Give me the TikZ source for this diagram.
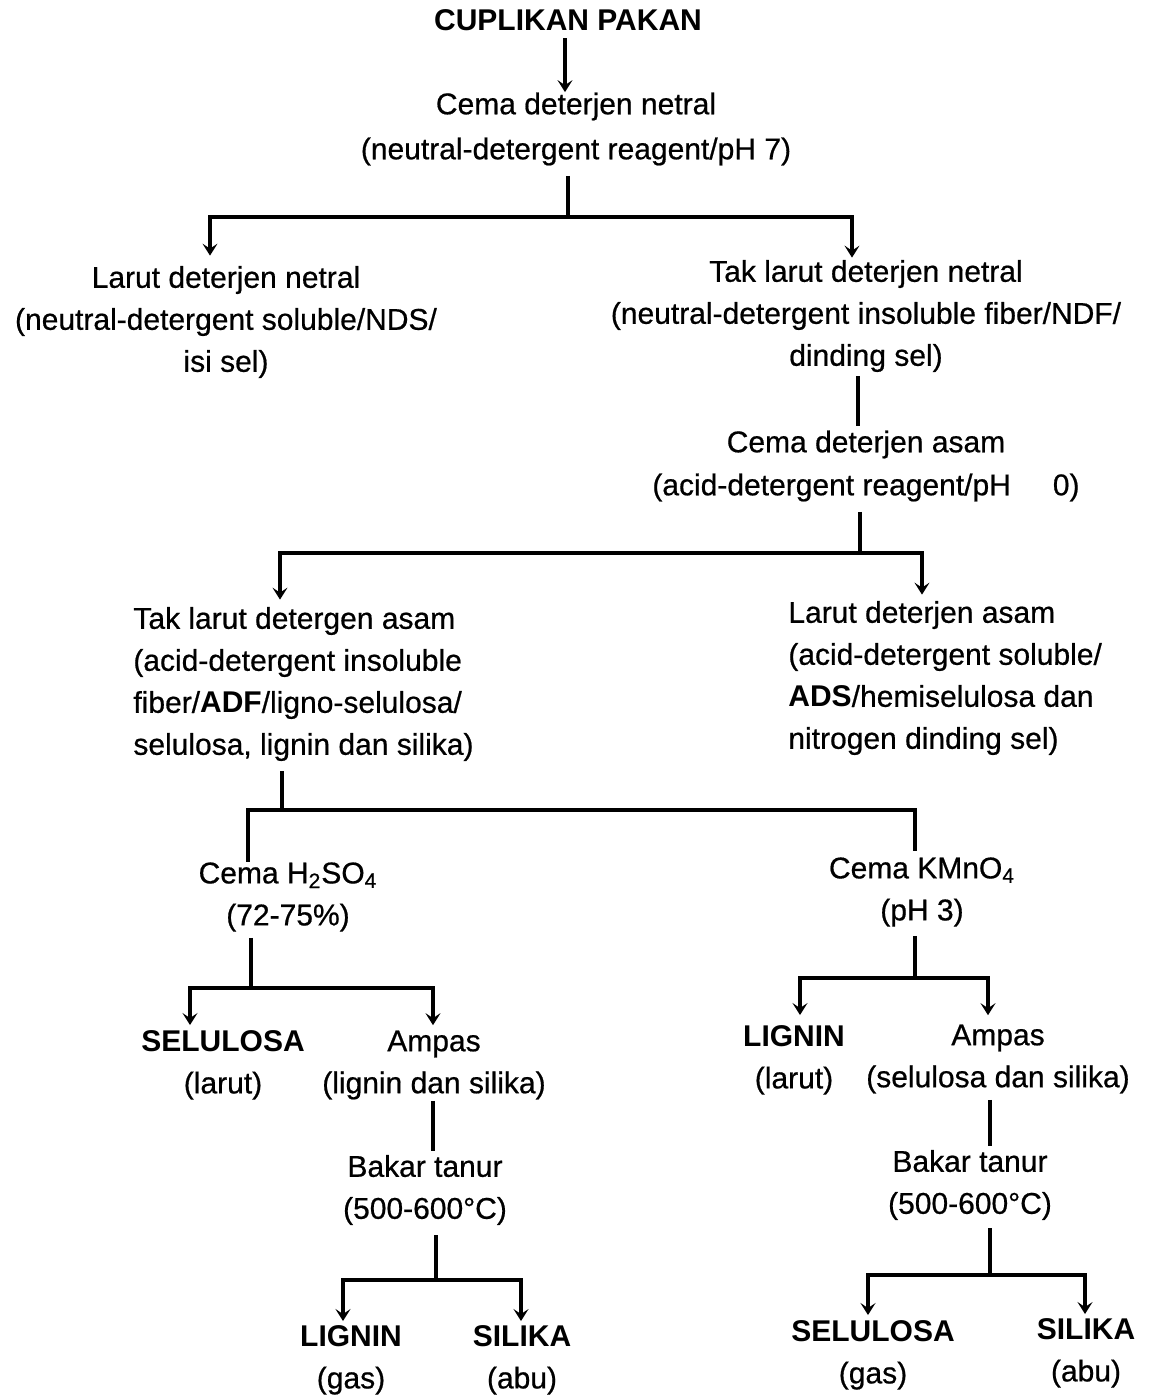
\documentclass[tikz,border=0pt]{standalone}
\usepackage{fontspec}
\setmainfont{Liberation Sans}[UprightFeatures={FakeBold=0.6}]
\usetikzlibrary{arrows.meta,calc}
\begin{document}
\begin{tikzpicture}[x=0.5pt,y=-0.5pt,
  txt/.style={inner sep=0pt, align=center, font=\fontsize{15}{21}\selectfont},
  txtl/.style={txt, align=left},
  ln/.style={line width=1.6pt},
  arr/.style={ln,-{Stealth[length=6pt,width=7.5pt,inset=2.5pt]}}]
\useasboundingbox[fill=white] (0,0) rectangle (1154,1397);
% nodes
\node[txt,font=\fontsize{15}{21}\selectfont\bfseries] (cup) at (568,20) {CUPLIKAN PAKAN};
\node[txt] (cema1) at (576,129) {Cema deterjen netral\\[1.5pt](neutral-detergent reagent/pH 7)};
\node[txt] (nds) at (226,322) {Larut deterjen netral\\(neutral-detergent soluble/NDS/\\isi sel)};
\node[txt] (ndf) at (866,316) {Tak larut deterjen netral\\(neutral-detergent insoluble fiber/NDF/\\dinding sel)};
\node[txt] (cema2) at (866,466) {Cema deterjen asam\\[0.5pt](acid-detergent reagent/pH\hspace{21pt}0)};
\node[txtl,anchor=west] (adf) at (133,684) {Tak larut detergen asam\\(acid-detergent insoluble\\fiber/\textbf{ADF}/ligno-selulosa/\\selulosa, lignin dan silika)};
\node[txtl,anchor=west] (ads) at (788,678) {Larut deterjen asam\\(acid-detergent soluble/\\\textbf{ADS}/hemiselulosa dan\\nitrogen dinding sel)};
\node[txt] (hso) at (288,897) {Cema H\textsubscript{2}SO\textsubscript{4}\\(72-75\%)};
\node[txt] (kmn) at (922,892) {Cema KMnO\textsubscript{4}\\(pH 3)};
\node[txt] (sel1) at (223,1065) {\textbf{SELULOSA}\\(larut)};
\node[txt] (amp1) at (434,1065) {Ampas\\(lignin dan silika)};
\node[txt] (lig1) at (794,1060) {\textbf{LIGNIN}\\(larut)};
\node[txt] (amp2) at (998,1059) {Ampas\\(selulosa dan silika)};
\node[txt] (bak1) at (425,1190) {Bakar tanur\\(500-600°C)};
\node[txt] (bak2) at (970,1185) {Bakar tanur\\(500-600°C)};
\node[txt] (lig2) at (351,1360) {\textbf{LIGNIN}\\(gas)};
\node[txt] (sil1) at (522,1360) {\textbf{SILIKA}\\(abu)};
\node[txt] (sel2) at (873,1355) {\textbf{SELULOSA}\\(gas)};
\node[txt] (sil2) at (1086,1353) {\textbf{SILIKA}\\(abu)};
% junctions
\coordinate (xa) at (565,60);
\coordinate (j1) at (568,217); \coordinate (j1l) at (210,217); \coordinate (j1r) at (852,217);
\coordinate (xe) at (858,400);
\coordinate (j2) at (860,553); \coordinate (j2l) at (280,553); \coordinate (j2r) at (922,553);
\coordinate (j3) at (282,810); \coordinate (j3l) at (248,810); \coordinate (j3r) at (915,810);
\coordinate (j4) at (251,988); \coordinate (j4l) at (190,988); \coordinate (j4r) at (433,988);
\coordinate (j5) at (915,978); \coordinate (j5l) at (800,978); \coordinate (j5r) at (988,978);
\coordinate (xr) at (433,1125);
\coordinate (j6) at (436,1280); \coordinate (j6l) at (343,1280); \coordinate (j6r) at (521,1280);
\coordinate (xv) at (990,1120);
\coordinate (j7) at (990,1275); \coordinate (j7l) at (868,1275); \coordinate (j7r) at (1085,1275);
% connectors
\draw[arr,shorten <=3.5pt] (cup.south -| xa) -- (cema1.north -| xa);
\draw[ln,shorten <=5pt] (cema1.south -| j1) -- (j1);
\draw[arr,shorten >=5pt] (j1r) -- (j1l) -- (j1l |- nds.north);
\draw[arr,shorten >=1pt] (j1l) -- (j1r) -- (j1r |- ndf.north);
\draw[ln,shorten <=2pt,shorten >=2pt] (ndf.south -| xe) -- (cema2.north -| xe);
\draw[ln,shorten <=5pt] (cema2.south -| j2) -- (j2);
\draw[arr,shorten >=3.5pt] (j2r) -- (j2l) -- (j2l |- adf.north);
\draw[arr,shorten >=3pt] (j2l) -- (j2r) -- (j2r |- ads.north);
\draw[ln,shorten <=5pt] (adf.south -| j3) -- (j3);
\draw[ln] (j3r) -- (j3l) -- (j3l |- hso.north);
\draw[ln,shorten >=3pt] (j3l) -- (j3r) -- (j3r |- kmn.north);
\draw[ln,shorten <=3pt] (hso.south -| j4) -- (j4);
\draw[arr,shorten >=2.5pt] (j4r) -- (j4l) -- (j4l |- sel1.north);
\draw[arr,shorten >=2.5pt] (j4l) -- (j4r) -- (j4r |- amp1.north);
\draw[ln,shorten <=4.5pt] (kmn.south -| j5) -- (j5);
\draw[arr,shorten >=5pt] (j5r) -- (j5l) -- (j5l |- lig1.north);
\draw[arr,shorten >=4.5pt] (j5l) -- (j5r) -- (j5r |- amp2.north);
\draw[ln,shorten <=0.5pt,shorten >=2pt] (amp1.south -| xr) -- (bak1.north -| xr);
\draw[ln,shorten <=5pt] (bak1.south -| j6) -- (j6);
\draw[arr,shorten >=2pt] (j6r) -- (j6l) -- (j6l |- lig2.north);
\draw[arr,shorten >=2pt] (j6l) -- (j6r) -- (j6r |- sil1.north);
\draw[ln,shorten <=3pt,shorten >=2pt] (amp2.south -| xv) -- (bak2.north -| xv);
\draw[ln,shorten <=4pt] (bak2.south -| j7) -- (j7);
\draw[arr,shorten >=2.5pt] (j7r) -- (j7l) -- (j7l |- sel2.north);
\draw[arr,shorten >=2pt] (j7l) -- (j7r) -- (j7r |- sil2.north);
\end{tikzpicture}
\end{document}
